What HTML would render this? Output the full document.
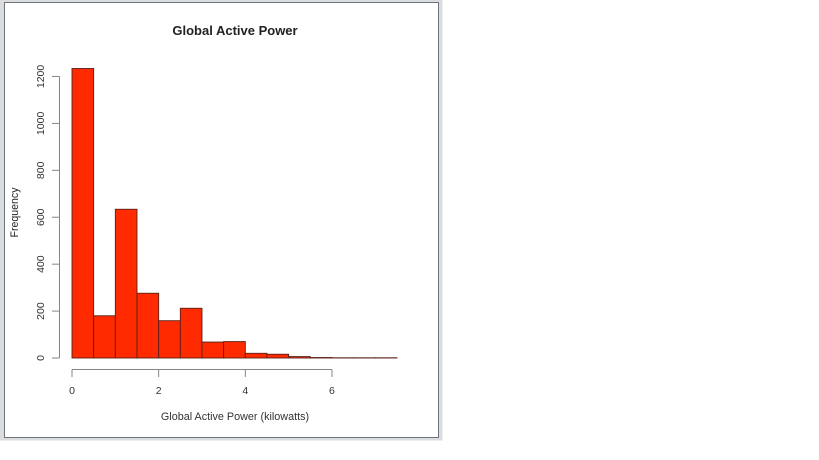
<!DOCTYPE html>
<html>
<head>
<meta charset="utf-8">
<style>
html,body{margin:0;padding:0;background:#fff;width:819px;height:460px;overflow:hidden}
svg{display:block;filter:blur(0.35px)}
text{font-family:"Liberation Sans",sans-serif;fill:#333}
</style>
</head>
<body>
<svg id="chart" width="819" height="460" viewBox="0 0 819 460">
  <rect x="0" y="0" width="442.5" height="440.5" fill="#dcdcdc"/>
  <rect x="4.5" y="2.5" width="434" height="435" fill="#fff" stroke="#6b7683" stroke-width="1"/>
  <text x="235" y="35" font-size="13" font-weight="bold" text-anchor="middle" style="fill:#222">Global Active Power</text>
  <text x="235" y="420" font-size="10.8" text-anchor="middle">Global Active Power (kilowatts)</text>
  <text transform="translate(18,212.5) rotate(-90)" font-size="10.6" text-anchor="middle" style="fill:#222">Frequency</text>
  <g id="bars"></g>
  <g id="x-axis"></g>
  <g id="y-axis"></g>
</svg>
<script>
const binStart = 0;
const binWidth = 0.5;
const frequencies = [1234, 180, 634, 276, 159, 212, 68, 70, 20, 16, 6, 2, 1, 1, 1];
const xTicks = [0, 2, 4, 6];
const yTicks = [0, 200, 400, 600, 800, 1000, 1200];

const NS = 'http://www.w3.org/2000/svg';
function xScale(v) { return 72 + v * 43.33; }
function yScale(v) { return 358 - v * 0.2346; }
function make(tag, attrs, parent) {
  const el = document.createElementNS(NS, tag);
  for (const k in attrs) el.setAttribute(k, attrs[k]);
  parent.appendChild(el);
  return el;
}
const barsG = document.getElementById('bars');
frequencies.forEach(function (f, i) {
  const x0 = xScale(binStart + i * binWidth);
  const x1 = xScale(binStart + (i + 1) * binWidth);
  const y = yScale(f);
  const r = make('rect', { x: x0, y: y, width: x1 - x0, height: 358 - y, fill: '#ff2a00', stroke: '#5a2018', 'stroke-width': 0.9 }, barsG);
  
  
});
const axisColor = '#858585';
const xG = document.getElementById('x-axis');
const xl = make('line', { x1: xScale(xTicks[0]), x2: xScale(xTicks[xTicks.length - 1]), y1: 369.5, y2: 369.5, stroke: axisColor }, xG);


xTicks.forEach(function (t) {
  const x = xScale(t);
  const tk = make('line', { x1: x, x2: x, y1: 369.5, y2: 377, stroke: axisColor }, xG);
  
  
  const lb = make('text', { x: x, y: 394, 'font-size': 10.5, 'text-anchor': 'middle' }, xG);
  lb.textContent = t;
  
  
});
const yG = document.getElementById('y-axis');
const yl = make('line', { x1: 59.5, x2: 59.5, y1: yScale(yTicks[0]), y2: yScale(yTicks[yTicks.length - 1]), stroke: axisColor }, yG);


yTicks.forEach(function (t) {
  const y = yScale(t);
  const tk = make('line', { x1: 52, x2: 59.5, y1: y, y2: y, stroke: axisColor }, yG);
  
  
  const lb = make('text', { transform: 'translate(44,' + y + ') rotate(-90)', 'font-size': 10.5, 'text-anchor': 'middle' }, yG);
  lb.textContent = t;
  
  
});
</script>
</body>
</html>
